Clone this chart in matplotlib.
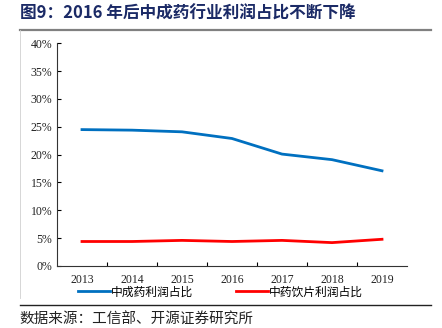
import matplotlib
matplotlib.use("Agg")
import matplotlib.pyplot as plt
from matplotlib.lines import Line2D
from matplotlib.ticker import FixedLocator, FuncFormatter

plt.rcParams["font.family"] = ["Noto Sans CJK SC", "DejaVu Sans"]

# Data (profit share, %)
years = ["2013", "2014", "2015", "2016", "2017", "2018", "2019"]
patent_medicine = [24.5, 24.4, 24.1, 22.9, 20.1, 19.1, 17.1]
decoction_pieces = [4.4, 4.4, 4.6, 4.4, 4.6, 4.2, 4.8]
series_names = ["中成药利润占比", "中药饮片利润占比"]
yticks = [0, 5, 10, 15, 20, 25, 30, 35, 40]

fig = plt.figure(figsize=(4.42, 3.28), dpi=100)
ax = fig.add_axes([57 / 442, 62 / 328, 350 / 442, 222.7 / 328])

x = list(range(len(years)))
ax.plot(x, patent_medicine, color="#0070C0", lw=2.0, label=series_names[0])
ax.plot(x, decoction_pieces, color="#FF0000", lw=2.0, label=series_names[1])

ax.set_xlim(-0.5, len(years) - 0.5)
ax.set_ylim(0, 40)
ax.set_yticks(yticks)
ax.yaxis.set_major_formatter(FuncFormatter(lambda v, p: f"{v:.0f}%"))

# category ticks sit between categories, labels centred on them
ax.xaxis.set_major_locator(FixedLocator([i + 0.5 for i in x[:-1]]))
ax.xaxis.set_major_formatter(FuncFormatter(lambda v, p: ""))
ax.xaxis.set_minor_locator(FixedLocator(x))
ax.set_xticklabels(years, minor=True)
ax.tick_params(axis="x", which="minor", length=0, pad=6)
ax.tick_params(axis="both", which="major", direction="in", length=3, width=0.8)
for lab in ax.get_yticklabels() + ax.get_xticklabels(minor=True):
    lab.set_family("Liberation Serif")
    lab.set_fontsize(8.5)
    lab.set_color("#222222")

for side in ["top", "right"]:
    ax.spines[side].set_visible(False)
for side in ["left", "bottom"]:
    ax.spines[side].set_color("#333333")
    ax.spines[side].set_linewidth(0.8)

fig.legend(loc="center", bbox_to_anchor=(0.499, 0.11), ncol=2, frameon=False,
           fontsize=8.5, handlelength=2.7, handletextpad=0.1, columnspacing=3.6)

# title, frame lines and source note
fig.text(0.045, 0.957, "图9：2016 年后中成药行业利润占比不断下降", fontsize=12,
         fontweight="bold", color="#1B2A66", va="center", ha="left")
fig.add_artist(Line2D([0.045, 0.975], [0.909, 0.909], color="#808080", lw=1.6))
fig.add_artist(Line2D([0.046, 0.046], [0.909, 0.09], color="#d0d0d0", lw=0.6))
fig.add_artist(Line2D([0.045, 0.975], [0.07, 0.07], color="#222222", lw=1.0))
fig.text(0.045, 0.024, "数据来源：工信部、开源证券研究所", fontsize=10.5,
         color="#222222", va="center", ha="left")

fig.savefig("out.png", dpi=100)
